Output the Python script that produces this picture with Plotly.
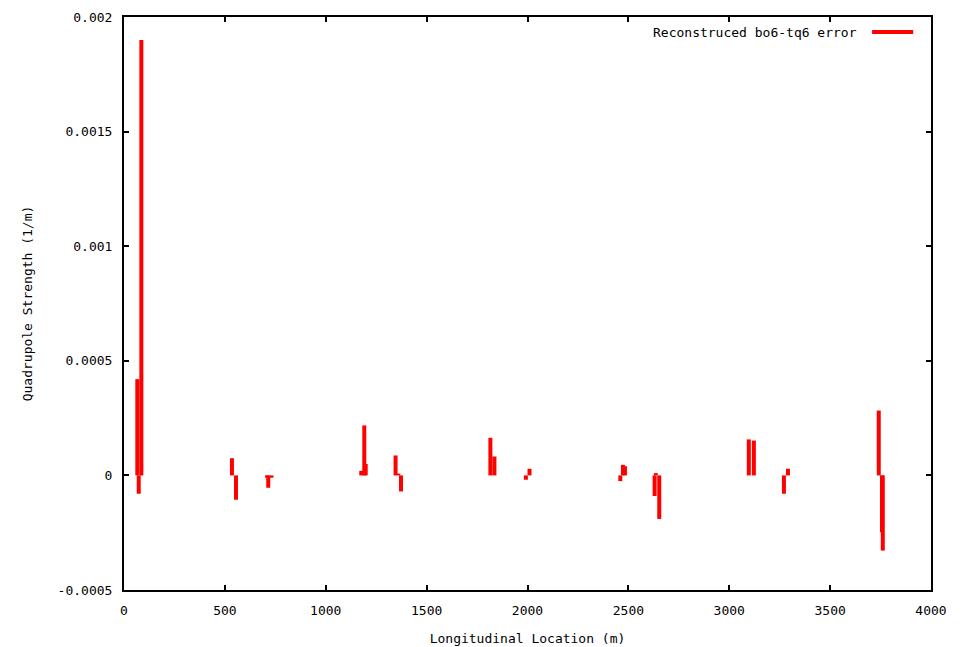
import plotly.graph_objects as go

# Longitudinal positions (m) and reconstructed quadrupole strength errors (1/m)
location_m = [
    66, 73, 86,
    535, 555, 709, 715, 731,
    1176, 1191, 1198, 1346, 1360, 1373,
    1816, 1836, 1992, 2010,
    2460, 2473, 2483, 2630, 2636, 2653,
    3097, 3122, 3271, 3291,
    3741, 3757, 3761,
]
strength = [
    0.00042, -0.00008, 0.0019,
    0.000075, -0.000106, -0.00001, -0.000054, -0.00001,
    0.00002, 0.000218, 0.00005, 0.000087, 0.000008, -0.00007,
    0.000164, 0.0000825, -0.000019, 0.000029,
    -0.000025, 0.000046, 0.00004, -0.00009, 0.00001, -0.00019,
    0.000157, 0.000152, -0.00008, 0.000029,
    0.000283, -0.000248, -0.000328,
]
series_name = "Reconstruced bo6-tq6 error"

x_ticks = [0, 500, 1000, 1500, 2000, 2500, 3000, 3500, 4000]
y_ticks = [-0.0005, 0, 0.0005, 0.001, 0.0015, 0.002]
y_tick_text = ["-0.0005", "0", "0.0005", "0.001", "0.0015", "0.002"]

# impulses: vertical line from zero to each value
xs, ys = [], []
for s, v in zip(location_m, strength):
    xs += [s, s, None]
    ys += [0, v, None]

FONT = "DejaVu Sans Mono, Liberation Mono, monospace"
RED = "#ff0000"

fig = go.Figure()
fig.add_trace(go.Scatter(
    x=xs, y=ys, mode="lines", name=series_name,
    line=dict(color=RED, width=4), connectgaps=False, showlegend=False,
))

axis_common = dict(
    showgrid=False, zeroline=False, showline=True, linecolor="black",
    linewidth=2, mirror="ticks", ticks="inside", ticklen=5, tickwidth=2,
    tickcolor="black", tickfont=dict(family=FONT, size=13, color="black"),
    automargin=False,
)

fig.update_layout(
    width=965, height=647,
    margin=dict(l=124, r=34, t=17, b=57),
    paper_bgcolor="white", plot_bgcolor="white",
    font=dict(family=FONT, size=13, color="black"),
    xaxis=dict(range=[0, 4000], tickvals=x_ticks,
               title=dict(text="Longitudinal Location (m)", standoff=17,
                          font=dict(family=FONT, size=13)),
               ticklabelstandoff=7, **axis_common),
    yaxis=dict(range=[-0.0005, 0.002], tickvals=y_ticks, ticktext=y_tick_text,
               title=dict(text="Quadrupole Strength (1/m)", standoff=22,
                          font=dict(family=FONT, size=13)),
               ticklabelstandoff=7, **axis_common),
    showlegend=False,
)

# legend entry in gnuplot style (text, then line sample to the right)
fig.add_annotation(xref="paper", yref="paper", x=0.9108, y=0.9738,
                   xanchor="right", yanchor="middle", showarrow=False,
                   text=series_name, font=dict(family=FONT, size=13, color="black"))
fig.add_shape(type="line", xref="paper", yref="paper",
              x0=0.927, x1=0.978, y0=0.9738, y1=0.9738,
              line=dict(color=RED, width=4))

fig.write_html("out.html")
